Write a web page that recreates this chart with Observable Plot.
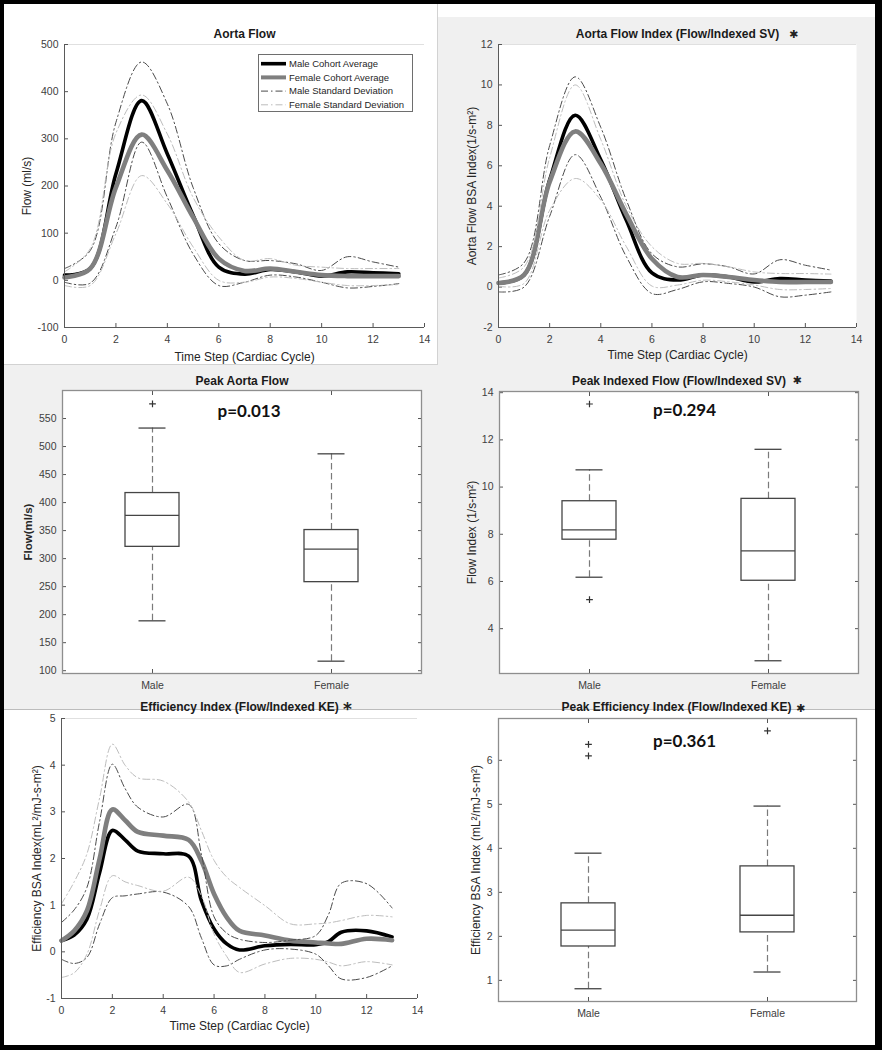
<!DOCTYPE html>
<html>
<head>
<meta charset="utf-8">
<script src="https://cdn.jsdelivr.net/npm/d3@7"></script>
<script src="https://cdn.jsdelivr.net/npm/@observablehq/plot@0.6"></script>
<style>
  body { margin: 0; background: #fff; }
  #fig { position: relative; width: 882px; height: 1050px; background: #f0f0f0; overflow: hidden;
         font-family: "Liberation Sans", Arial, sans-serif; }
  .abs { position: absolute; }
  .abs svg { overflow: visible; }
</style>
</head>
<body>
<div id="fig"></div>
<script>
// ================= DATA =================
const seriesNames = ["Male Cohort Average", "Female Cohort Average", "Male Standard Deviation", "Female Standard Deviation"];

// Aorta Flow (ml/s)
const timeSteps = [0, 1, 2, 3, 4, 5, 6, 7, 8, 9, 10, 11, 12, 13];
const flowMaleAvg   = [11, 25, 226, 381, 268, 138, 28, 13, 23, 18, 9, 18, 16, 14];
const flowFemaleAvg = [6, 25, 197, 309, 233, 134, 46, 20, 25, 18, 11, 9, 9, 9];
const flowMaleSDUp  = [25, 63, 335, 463, 374, 197, 78, 42, 42, 35, 21, 50, 39, 28];
const flowMaleSDLo  = [-4, -6, 113, 293, 176, 56, -11, -4, 11, 7, -4, -16, -13, -7];
const flowFemaleSDUp = [18, 67, 312, 393, 310, 176, 92, 42, 46, 32, 28, 25, 25, 25];
const flowFemaleSDLo = [-11, -11, 99, 222, 162, 71, 0, -4, 7, 4, -4, -11, -11, -9];

// Aorta Flow Index (1/s-m2)
const idxMaleAvg   = [0.2, 0.6, 5.3, 8.5, 6.3, 3.3, 0.7, 0.35, 0.6, 0.5, 0.25, 0.42, 0.35, 0.3];
const idxFemaleAvg = [0.2, 0.6, 5.2, 7.7, 6.1, 3.6, 1.4, 0.5, 0.6, 0.5, 0.35, 0.25, 0.25, 0.25];
const idxMaleSDUp  = [0.6, 1.2, 7.0, 10.4, 7.9, 4.3, 1.65, 1.0, 1.15, 1.0, 0.65, 1.35, 1.08, 0.84];
const idxMaleSDLo  = [-0.24, 0.0, 3.5, 6.55, 4.45, 1.5, -0.32, -0.12, 0.26, 0.18, 0.0, -0.48, -0.4, -0.24];
const idxFemaleSDUp = [0.45, 1.0, 6.4, 10.0, 7.3, 4.0, 2.0, 1.17, 1.17, 1.0, 0.75, 0.67, 0.67, 0.64];
const idxFemaleSDLo = [0.04, 0.18, 3.8, 5.37, 4.3, 2.0, 0.05, 0.1, 0.34, 0.26, 0.1, -0.12, -0.12, -0.07];

// Efficiency Index (mL2/mJ-s-m2)
const effTime = [0, 0.5, 1, 1.5, 2, 2.5, 3, 4, 5, 5.5, 6, 6.5, 7, 8, 9, 10, 10.5, 11, 12, 13];
const effMaleAvg   = [0.24, 0.36, 0.7, 1.7, 2.6, 2.4, 2.16, 2.1, 2.05, 1.1, 0.49, 0.17, 0.04, 0.13, 0.16, 0.15, 0.22, 0.42, 0.45, 0.32];
const effFemaleAvg = [0.24, 0.45, 0.88, 2.0, 3.05, 2.82, 2.57, 2.49, 2.4, 1.95, 1.24, 0.74, 0.45, 0.35, 0.24, 0.2, 0.18, 0.17, 0.28, 0.25];
const effMaleSDUp  = [0.63, 0.9, 1.38, 2.8, 4.02, 3.5, 3.1, 2.89, 3.16, 2.1, 0.75, 0.4, 0.27, 0.2, 0.25, 0.35, 0.8, 1.47, 1.46, 0.94];
const effMaleSDLo  = [-0.16, -0.25, -0.12, 0.6, 1.16, 1.2, 1.24, 1.28, 0.97, 0.3, -0.28, -0.3, -0.16, 0.04, 0.06, -0.05, -0.3, -0.58, -0.55, -0.3];
const effFemaleSDUp = [1.03, 1.5, 2.1, 3.3, 4.45, 4.0, 3.73, 3.66, 3.21, 2.6, 1.96, 1.6, 1.38, 0.99, 0.6, 0.6, 0.62, 0.67, 0.78, 0.75];
const effFemaleSDLo = [-0.55, -0.45, -0.05, 0.9, 1.63, 1.5, 1.42, 1.3, 1.6, 1.2, 0.38, -0.1, -0.44, -0.26, -0.14, -0.16, -0.22, -0.3, -0.21, -0.28];

// Box plots
const groups = ["Male", "Female"];
const peakFlowLow = [189, 117], peakFlowQ1 = [321, 258], peakFlowMedian = [377, 317], peakFlowQ3 = [417, 351], peakFlowHigh = [533, 487];
const peakFlowOutliers = [[576], []];
const peakIdxLow = [6.18, 2.64], peakIdxQ1 = [7.77, 6.03], peakIdxMedian = [8.19, 7.3], peakIdxQ3 = [9.4, 9.5], peakIdxHigh = [10.73, 11.6];
const peakIdxOutliers = [[13.52, 5.23], []];
const peakEffLow = [0.81, 1.19], peakEffQ1 = [1.77, 2.09], peakEffMedian = [2.14, 2.48], peakEffQ3 = [2.75, 3.59], peakEffHigh = [3.89, 4.96];
const peakEffOutliers = [[6.36, 6.1], [6.67]];

// Axis settings
const timeTicks = [0, 2, 4, 6, 8, 10, 12, 14];
const flowTicks = [-100, 0, 100, 200, 300, 400, 500];
const idxTicks = [-2, 0, 2, 4, 6, 8, 10, 12];
const effTicks = [-1, 0, 1, 2, 3, 4, 5];
const peakFlowTicks = [100, 150, 200, 250, 300, 350, 400, 450, 500, 550];
const peakIdxTicks = [4, 6, 8, 10, 12, 14];
const peakEffTicks = [1, 2, 3, 4, 5, 6];

// ================= STYLES =================
const FONT = "Liberation Sans, Arial, sans-serif";
const STYLE = {
  "Male Cohort Average": {stroke: "#000000", strokeWidth: 3.6},
  "Female Cohort Average": {stroke: "#7f7f7f", strokeWidth: 4.6},
  "Male Standard Deviation": {stroke: "#4a4a4a", strokeWidth: 1, strokeDasharray: "7,3,1.5,3"},
  "Female Standard Deviation": {stroke: "#bdbdbd", strokeWidth: 1, strokeDasharray: "7,3,1.5,3"}
};
const fig = document.getElementById("fig");

function place(el, left, top) {
  const d = document.createElement("div");
  d.className = "abs";
  d.style.left = left + "px"; d.style.top = top + "px";
  d.appendChild(el);
  fig.appendChild(d);
  return d;
}
function box(left, top, w, h, css) {
  const d = document.createElement("div");
  d.className = "abs";
  Object.assign(d.style, {left: left + "px", top: top + "px", width: w + "px", height: h + "px", boxSizing: "border-box"}, css);
  fig.appendChild(d);
}

function rowsOf(t, series) {
  return series.flatMap(s => s.values.map((v, i) => ({t: t[i], v, name: s.name, key: s.name + "|" + s.part})));
}

function titleMarks(o) {
  const m = [Plot.text([o.title], {text: d => d, frameAnchor: "top", lineAnchor: "middle", dy: o.dy, dx: o.dx || 0,
    fontWeight: "bold", fontSize: 12, fill: "#1a1a1a"})];
  if (o.star) m.push(Plot.text([o.star], {text: d => d, frameAnchor: "top", lineAnchor: "middle", dy: o.starDy, dx: o.starDx,
    fontWeight: "bold", fontSize: o.starSize || 11, fontFamily: "DejaVu Sans, sans-serif", fill: "#222"}));
  return m;
}

function ylabelMark(o) {
  return Plot.text([o.ylabel], {text: d => d, frameAnchor: "left", textAnchor: "middle", lineAnchor: "middle", rotate: -90,
    dx: o.ylabelDx, fontSize: o.ylabelSize || 12, fontWeight: o.ylabelWeight || "normal", fill: "#262626"});
}

function linePanel(o) {
  const rows = rowsOf(o.t, o.series);
  const marks = [];
  if (o.whiteFrame) marks.push(Plot.frame({fill: "white", stroke: "none"}));
  marks.push(Plot.ruleY([o.yDomain[1]], {stroke: "#e0e0e0"}));
  marks.push(Plot.axisX({ticks: timeTicks, tickSize: 0, tickPadding: 8, tickFormat: d => String(d), color: "#404040", label: null, fontSize: 10.5}));
  marks.push(Plot.axisX({ticks: timeTicks, tickSize: -4, tickFormat: () => "", color: "#555", label: null}));
  marks.push(Plot.axisY({ticks: o.yTicks, tickSize: 0, tickPadding: 6, tickFormat: d => String(d), color: "#404040", label: null, fontSize: 10.5}));
  marks.push(Plot.axisY({ticks: o.yTicks, tickSize: -4, tickFormat: () => "", color: "#555", label: null}));
  for (const name of seriesNames) {
    marks.push(Plot.line(rows.filter(r => r.name === name), {x: "t", y: "v", z: "key", curve: "catmull-rom", ...STYLE[name]}));
  }
  marks.push(Plot.ruleX([o.xDomain[0]], {stroke: "#5a5a5a"}));
  marks.push(Plot.ruleY([o.yDomain[0]], {stroke: "#5a5a5a"}));
  marks.push(ylabelMark(o));
  marks.push(Plot.text(["Time Step (Cardiac Cycle)"], {text: d => d, frameAnchor: "bottom", lineAnchor: "middle", dy: o.xlabelDy, fontSize: 12, fill: "#262626"}));
  marks.push(...titleMarks(o));
  const svg = Plot.plot({
    width: o.width, height: o.height,
    marginTop: o.m[0], marginRight: o.m[1], marginBottom: o.m[2], marginLeft: o.m[3],
    x: {domain: o.xDomain}, y: {domain: o.yDomain},
    style: {background: "transparent", fontFamily: FONT, fontSize: "10.5px", overflow: "visible"},
    marks
  });
  return place(svg, o.left, o.top);
}

function boxPanel(o) {
  const stats = groups.map((g, i) => ({group: g, low: o.low[i], q1: o.q1[i], median: o.median[i], q3: o.q3[i], high: o.high[i]}));
  const outl = groups.flatMap((g, i) => o.outliers[i].map(v => ({group: g, value: v})));
  const boxStroke = "#454545";
  const marks = [
    Plot.frame({fill: "white", stroke: "none"}),
    Plot.axisX({tickSize: 0, tickPadding: 8, color: "#404040", label: null, fontSize: 10.5}),
    Plot.axisX({tickSize: -4, tickFormat: () => "", color: "#555", label: null}),
    Plot.axisX({anchor: "top", tickSize: -4, tickFormat: () => "", color: "#555", label: null}),
    Plot.axisY({ticks: o.yTicks, tickSize: 0, tickPadding: 6, tickFormat: d => String(d), color: "#404040", label: null, fontSize: 10.5}),
    Plot.axisY({ticks: o.yTicks, tickSize: -4, tickFormat: () => "", color: "#555", label: null}),
    Plot.axisY({anchor: "right", ticks: o.yTicks, tickSize: -4, tickFormat: () => "", color: "#555", label: null}),
    Plot.ruleX(stats, {x: "group", y1: "q3", y2: "high", stroke: "#7a7a7a", strokeWidth: 1.2, strokeDasharray: "6.5,3.5"}),
    Plot.ruleX(stats, {x: "group", y1: "low", y2: "q1", stroke: "#7a7a7a", strokeWidth: 1.2, strokeDasharray: "6.5,3.5"}),
    Plot.tickY(stats, {x: "group", y: "high", insetLeft: 13.5, insetRight: 13.5, stroke: boxStroke, strokeWidth: 1.3}),
    Plot.tickY(stats, {x: "group", y: "low", insetLeft: 13.5, insetRight: 13.5, stroke: boxStroke, strokeWidth: 1.3}),
    Plot.barY(stats, {x: "group", y1: "q1", y2: "q3", fill: "none", stroke: boxStroke, strokeWidth: 1.3}),
    Plot.tickY(stats, {x: "group", y: "median", stroke: boxStroke, strokeWidth: 1.3}),
    Plot.dot(outl, {x: "group", y: "value", symbol: "plus", r: 2.3, stroke: "#333", strokeWidth: 1.2}),
    Plot.frame({stroke: "#8e8e8e", strokeWidth: 1.3}),
    ylabelMark(o),
    Plot.text([o.pText], {text: d => d, frameAnchor: "top", lineAnchor: "middle", dx: o.pDx, dy: o.pDy, fontSize: 17, fontWeight: "bold",
      fontFamily: "Lato, 'Open Sans', sans-serif", fill: "#111"}),
    ...titleMarks(o)
  ];
  const svg = Plot.plot({
    width: o.width, height: o.height,
    marginTop: o.m[0], marginRight: o.m[1], marginBottom: o.m[2], marginLeft: o.m[3],
    x: {type: "band", domain: groups, paddingInner: 0.7, paddingOuter: 0.35},
    y: {domain: o.yDomain},
    style: {background: "transparent", fontFamily: FONT, fontSize: "10.5px", overflow: "visible"},
    marks
  });
  return place(svg, o.left, o.top);
}

// ================= BACKGROUND =================
box(0, 0, 882, 17, {background: "#ffffff"});
box(4, 4, 434, 361, {background: "#ffffff", borderRight: "1px solid #d2d2d2", borderBottom: "1px solid #d2d2d2"});
box(0, 709, 882, 341, {background: "#ffffff", borderTop: "1px solid #bcbcbc"});

// ================= PANELS =================
linePanel({
  left: 0, top: 0, width: 437, height: 365, m: [44, 13, 38, 64],
  t: timeSteps, xDomain: [0, 14], yDomain: [-100, 500], yTicks: flowTicks,
  series: [
    {name: seriesNames[0], part: "avg", values: flowMaleAvg},
    {name: seriesNames[1], part: "avg", values: flowFemaleAvg},
    {name: seriesNames[2], part: "up", values: flowMaleSDUp},
    {name: seriesNames[2], part: "lo", values: flowMaleSDLo},
    {name: seriesNames[3], part: "up", values: flowFemaleSDUp},
    {name: seriesNames[3], part: "lo", values: flowFemaleSDLo}
  ],
  ylabel: "Flow (ml/s)", ylabelDx: -37, xlabelDy: 30,
  title: "Aorta Flow", dy: -10
});

linePanel({
  left: 437, top: 0, width: 445, height: 365, m: [44, 26, 38, 61], whiteFrame: true,
  t: timeSteps, xDomain: [0, 14], yDomain: [-2, 12], yTicks: idxTicks,
  series: [
    {name: seriesNames[0], part: "avg", values: idxMaleAvg},
    {name: seriesNames[1], part: "avg", values: idxFemaleAvg},
    {name: seriesNames[2], part: "up", values: idxMaleSDUp},
    {name: seriesNames[2], part: "lo", values: idxMaleSDLo},
    {name: seriesNames[3], part: "up", values: idxFemaleSDUp},
    {name: seriesNames[3], part: "lo", values: idxFemaleSDLo}
  ],
  ylabel: "Aorta Flow BSA Index(1/s-m²)", ylabelDx: -26, xlabelDy: 28,
  title: "Aorta Flow Index (Flow/Indexed SV)", dy: -10, star: "✱", starDx: 116, starDy: -10.5
});

boxPanel({
  left: 0, top: 365, width: 437, height: 345, m: [25, 16, 37, 62],
  yDomain: [95, 600], yTicks: peakFlowTicks,
  low: peakFlowLow, q1: peakFlowQ1, median: peakFlowMedian, q3: peakFlowQ3, high: peakFlowHigh, outliers: peakFlowOutliers,
  ylabel: "Flow(ml/s)", ylabelDx: -34, ylabelWeight: "bold", ylabelSize: 11.5,
  title: "Peak Aorta Flow", dy: -9.5,
  pText: "p=0.013", pDx: 7, pDy: 20.7
});

boxPanel({
  left: 437, top: 365, width: 445, height: 345, m: [26, 24, 37, 62],
  yDomain: [2.1, 14.05], yTicks: peakIdxTicks,
  low: peakIdxLow, q1: peakIdxQ1, median: peakIdxMedian, q3: peakIdxQ3, high: peakIdxHigh, outliers: peakIdxOutliers,
  ylabel: "Flow Index (1/s-m²)", ylabelDx: -27,
  title: "Peak Indexed Flow (Flow/Indexed SV)", dy: -10, star: "✱", starDx: 118, starDy: -11,
  pText: "p=0.294", pDx: 5.5, pDy: 19
});

linePanel({
  left: 0, top: 710, width: 437, height: 340, m: [8, 20, 52, 61],
  t: effTime, xDomain: [0, 14], yDomain: [-1, 5], yTicks: effTicks,
  series: [
    {name: seriesNames[0], part: "avg", values: effMaleAvg},
    {name: seriesNames[1], part: "avg", values: effFemaleAvg},
    {name: seriesNames[2], part: "up", values: effMaleSDUp},
    {name: seriesNames[2], part: "lo", values: effMaleSDLo},
    {name: seriesNames[3], part: "up", values: effFemaleSDUp},
    {name: seriesNames[3], part: "lo", values: effFemaleSDLo}
  ],
  ylabel: "Efficiency BSA Index(mL²/mJ-s-m²)", ylabelDx: -24, xlabelDy: 28,
  title: "Efficiency Index (Flow/Indexed KE)", dy: -11, star: "*", starSize: 17, starDx: 108, starDy: -9
});

boxPanel({
  left: 437, top: 710, width: 445, height: 340, m: [8, 26, 49, 61],
  yDomain: [0.52, 6.95], yTicks: peakEffTicks,
  low: peakEffLow, q1: peakEffQ1, median: peakEffMedian, q3: peakEffQ3, high: peakEffHigh, outliers: peakEffOutliers,
  ylabel: "Efficiency BSA Index (mL²/mJ-s-m²)", ylabelDx: -22,
  title: "Peak Efficiency Index (Flow/Indexed KE)", dy: -11, dx: -1, star: "✱", starDx: 123, starDy: -10,
  pText: "p=0.361", pDx: 7, pDy: 22.7
});

// ================= LEGEND (top-left panel) =================
const legend = d3.select(fig).append("div").attr("class", "abs")
  .style("left", "258px").style("top", "54px").style("width", "155px").style("height", "58px")
  .style("border", "1px solid #6e6e6e").style("background", "#fff").style("box-sizing", "border-box");
const lsvg = legend.append("svg").attr("width", 153).attr("height", 56);
seriesNames.forEach((name, i) => {
  const y = 8.7 + i * 13.7;
  const s = STYLE[name];
  lsvg.append("line").attr("x1", 2).attr("x2", 27).attr("y1", y).attr("y2", y)
    .attr("stroke", s.stroke).attr("stroke-width", Math.min(s.strokeWidth, 4))
    .attr("stroke-dasharray", s.strokeDasharray || null);
  lsvg.append("text").attr("x", 30).attr("y", y).attr("dy", "0.35em")
    .attr("font-family", FONT).attr("font-size", 9.5).attr("fill", "#262626").text(name);
});

// ================= OUTER BORDER =================
box(0, 0, 882, 1050, {borderTop: "4px solid #000", borderLeft: "4px solid #000", borderRight: "7px solid #000", borderBottom: "5px solid #000", pointerEvents: "none"});
</script>
</body>
</html>
